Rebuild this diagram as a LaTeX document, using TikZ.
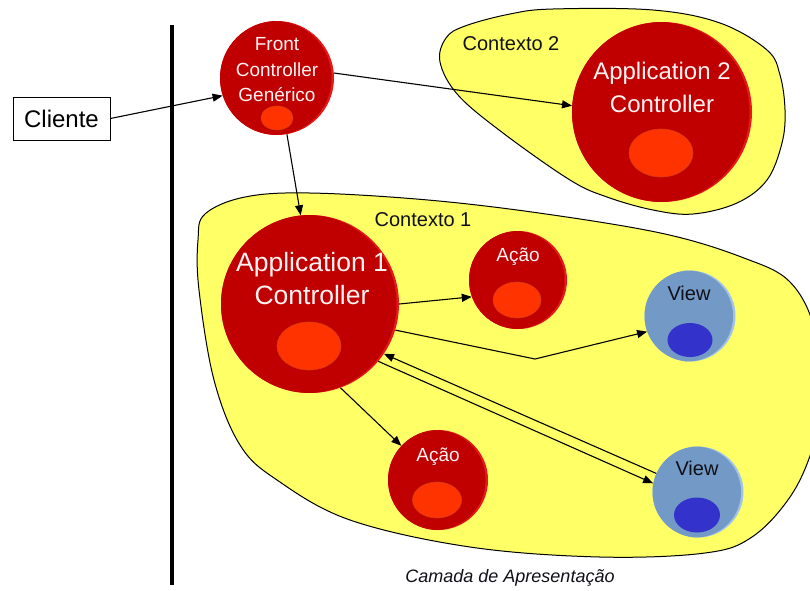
\documentclass[tikz,border=0pt]{standalone}
\usepackage{fontspec}
\setmainfont{Liberation Sans}
\usetikzlibrary{arrows.meta}

\definecolor{ctxyellow}{HTML}{FFFF66}
\definecolor{ctrlred}{HTML}{C00000}
\definecolor{ctrledge}{HTML}{E81818}
\definecolor{coreorange}{HTML}{FF3300}
\definecolor{coreline}{HTML}{D63A12}
\definecolor{viewblue}{HTML}{7399C6}
\definecolor{viewedge}{HTML}{A2C2E8}
\definecolor{viewcore}{HTML}{3333CC}
\definecolor{lighttext}{HTML}{FFF2F2}
\definecolor{darktext}{HTML}{101018}

\newcommand{\fsz}[2]{\fontsize{#1}{#2}\selectfont}

\begin{document}
\begin{tikzpicture}[x=1pt,y=-1pt,
  context/.style={draw=black, line width=1pt, fill=ctxyellow},
  ball/.style n args={3}{circle, minimum size=#1, inner sep=0pt, fill=#3,
    path picture={\fill[#2] ([xshift=-2.5pt]path picture bounding box.center) circle (#1/2);}},
  ctrl/.style={ball={#1}{ctrlred}{ctrledge}},
  viewball/.style={ball={#1}{viewblue}{viewedge}},
  core/.style={fill=coreorange, draw=coreline, line width=0.6pt},
  vcore/.style={fill=viewcore},
  redtxt/.style={text=lighttext, align=center, inner sep=0pt},
  blktxt/.style={text=darktext, align=center, inner sep=0pt},
  link/.style={-{Triangle[length=10pt,width=8pt]}, line width=1.1pt},
  layer/.style={line width=3.5pt}
]
\clip (0,0) rectangle (810,590);
\fill[white] (0,0) rectangle (810,590);

% context regions
\draw[context] plot[smooth cycle, tension=0.6] coordinates {
  (440,62) (446,38) (465,26) (510,14) (553,9) (653,10) (720,23) (767,50)
  (780,75) (785,110) (782,143) (767,180) (737,203) (693,214) (653,210)
  (607,197) (570,180) (503,133) (458,95)};
\draw[context] plot[smooth cycle, tension=0.6] coordinates {
  (205,214) (245,197) (310,193) (428,200) (546,214) (665,234) (744,258)
  (790,282) (815,330) (822,400) (812,450) (790,497) (752,537) (705,553)
  (600,557) (470,547) (350,520) (277,480) (240,445) (214,380) (199,290)
  (198,240)};

% layer boundary
\draw[layer] (172,25) -- (172,585);

% client box
\node[draw=black, line width=0.8pt, minimum width=97pt, minimum height=43pt,
      inner sep=0pt, font=\fsz{24}{28}] (cli) at (61.5,118.5) {Cliente};

% controllers, actions and views
\node[ctrl=114] (fc) at (277,78) {};
\node[ctrl=180] (app2) at (662,112) {};
\node[ctrl=178] (app1) at (310,304) {};
\node[ctrl=98] (acao1) at (518,280) {};
\node[ctrl=100] (acao2) at (438,480) {};
\node[viewball=91] (view1) at (690,316) {};
\node[viewball=91] (view2) at (698,492) {};

% inner cores
\filldraw[core] (277,118) ellipse [x radius=16, y radius=12];
\filldraw[core] (661,153) ellipse [x radius=32, y radius=24];
\filldraw[core] (309,346) ellipse [x radius=32, y radius=24];
\filldraw[core] (517,300) ellipse [x radius=24, y radius=18];
\filldraw[core] (437,500) ellipse [x radius=24.5, y radius=18];
\fill[vcore] (690,340) ellipse [x radius=22.5, y radius=17];
\fill[vcore] (697,515) ellipse [x radius=23, y radius=17.5];

% labels
\node[redtxt, font=\fsz{19}{25.5}] (fctxt) at (277,70) {Front\\Controller\\Genérico};
\node[redtxt, font=\fsz{24}{33}] (app2txt) at (662,87) {Application 2\\Controller};
\node[redtxt, font=\fsz{26.5}{33}] (app1txt) at (312,279) {Application 1\\Controller};
\node[redtxt, font=\fsz{19}{22}] (acao1txt) at (518,257) {Ação};
\node[redtxt, font=\fsz{19}{22}] (acao2txt) at (438,457) {Ação};
\node[blktxt, font=\fsz{20}{24}] (view1txt) at (689,293) {View};
\node[blktxt, font=\fsz{20}{24}] (view2txt) at (697,468) {View};
\node[blktxt, font=\fsz{20}{24}] (ctx2txt) at (511,44) {Contexto 2};
\node[blktxt, font=\fsz{20}{24}] (ctx1txt) at (423,220) {Contexto 1};
\node[blktxt, font=\fsz{18}{22}\itshape] (layertxt) at (510,578) {Camada de Apresentação};

% connectors
\coordinate (bend) at (535,359);
\draw[link] (cli.east) -- (fc.198);
\draw[link] (fc.5) -- (app2.176);
\draw[link] (fc.-80) -- (app1.96);
\draw[link] (app1.0) -- (acao1.200);
\draw[link] (app1.-17) -- (bend) -- (view1.-160);
\draw[link] (view2.156) -- (app1.-34);
\draw[link] (app1.-40) -- (view2.169);
\draw[link] (app1.-70) -- (acao2.137);
\end{tikzpicture}
\end{document}
